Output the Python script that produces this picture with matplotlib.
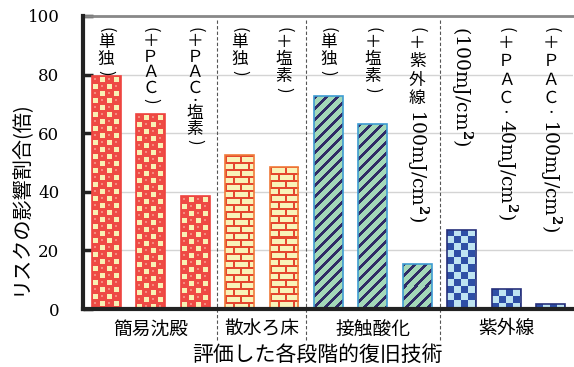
import numpy as np
import matplotlib
matplotlib.use("Agg")
import matplotlib.pyplot as plt

plt.rcParams["font.family"] = ["Noto Sans CJK JP", "DejaVu Sans"]
plt.rcParams["mathtext.fontset"] = "dejavuserif"

# data
values = [79.4, 66.4, 38.4, 52.4, 48.6, 72.6, 63.0, 15.4, 27.0, 6.8, 1.7]
kinds = ["circle"] * 3 + ["brick"] * 2 + ["stripe"] * 3 + ["check"] * 3
upright_labels = ["(単独)", "(＋ＰＡＣ)", "(＋ＰＡＣ・塩素)", "(単独)", "(＋塩素)",
                  "(単独)", "(＋塩素)", "(＋紫外線", "", "(＋ＰＡＣ・", "(＋ＰＡＣ・"]
rotated_labels = ["", "", "", "", "", "", "",
                  r"100mJ/cm$^{\mathbf{2}}$)", r"(100mJ/cm$^{\mathbf{2}}$)",
                  r"40mJ/cm$^{\mathbf{2}}$)", r"100mJ/cm$^{\mathbf{2}}$)"]
groups = ["簡易沈殿", "散水ろ床", "接触酸化", "紫外線"]
group_pos = [1, 3.5, 6, 9]
separators = [2.5, 4.5, 7.5]

edge_colors = {"circle": "#ee4440", "brick": "#f07a3a",
               "stripe": "#3e9cd2", "check": "#26307a"}
# character pitch (px) of the vertical labels, per column
pitches = [17, 15.5, 15.5, 17, 17, 17, 17, 18.5, 17, 18.5, 18.5]


def texture(kind, h, w):
    yy, xx = np.mgrid[0:h, 0:w]
    img = np.zeros((h, w, 3))
    if kind == "circle":
        red = np.array([238, 74, 68]) / 255
        cream = np.array([248, 241, 180]) / 255
        pink = np.array([245, 140, 128]) / 255
        c = 7
        cx, cy = xx % c, yy % c
        chk = ((xx // c) + (yy // c)) % 2
        img[:] = red
        img[(chk == 1) & (cx >= 1) & (cx <= 5) & (cy >= 1) & (cy <= 5)] = cream
        img[(chk == 0) & ((cx - 2.5) ** 2 + (cy - 2.5) ** 2 < 2.2)] = pink
    elif kind == "brick":
        cream = np.array([248, 243, 185]) / 255
        red = np.array([228, 70, 46]) / 255
        bh, bw = 7, 15
        off = ((yy // bh) % 2) * (bw // 2)
        img[:] = cream
        img[(yy % bh < 2) | ((xx + off) % bw < 2)] = red
    elif kind == "stripe":
        green = np.array([164, 216, 184]) / 255
        navy = np.array([48, 43, 102]) / 255
        img[:] = green
        img[(xx + yy) % 11 < 4] = navy
    else:
        blue = np.array([46, 79, 166]) / 255
        light = np.array([191, 228, 242]) / 255
        c = 7
        chk = ((xx // c) + (yy // c)) % 2
        img[:] = light
        img[chk == 0] = blue
    return img


fig, ax = plt.subplots(figsize=(5.74, 3.67), dpi=100)
fig.subplots_adjust(left=83 / 574, right=573 / 574, bottom=1 - 309 / 367, top=1 - 16 / 367)

x = np.arange(len(values))
ax.set_xlim(-0.52, 10.5)
ax.set_ylim(0, 100)

bars = ax.bar(x, values, width=0.65, facecolor="none",
              edgecolor=[edge_colors[k] for k in kinds], linewidth=1.2, zorder=3)

fig.canvas.draw()
for bar, kind in zip(bars, kinds):
    bx, bw, bh = bar.get_x(), bar.get_width(), bar.get_height()
    (px0, py0), (px1, py1) = ax.transData.transform([(bx, 0), (bx + bw, bh)])
    pw, ph = max(int(round(px1 - px0)), 1), max(int(round(py1 - py0)), 1)
    im = ax.imshow(texture(kind, ph, pw), extent=(bx, bx + bw, 0, bh), aspect="auto",
                   interpolation="nearest", origin="upper", zorder=2)
    im.set_clip_path(bar)

ax.set_xlim(-0.52, 10.5)
ax.set_ylim(0, 100)

# grid and spines
ax.set_yticks([0, 20, 40, 60, 80, 100])
ax.yaxis.grid(True, color="#d4d4d4", lw=1, zorder=0)
ax.set_axisbelow(True)
ax.set_xticks([])
ax.spines["right"].set_visible(False)
ax.spines["top"].set_color("#888888")
ax.spines["top"].set_linewidth(2)
ax.spines["left"].set_linewidth(3)
ax.spines["left"].set_color("#222222")
ax.spines["bottom"].set_linewidth(3)
ax.spines["bottom"].set_color("#222222")
ax.spines["left"].set_zorder(4)
ax.spines["bottom"].set_zorder(4)
ax.tick_params(axis="y", direction="in", length=7, width=2.5, color="#222222",
               labelsize=12, pad=17)
for lab in ax.get_yticklabels():
    lab.set_fontfamily("DejaVu Serif")

# separators
for s in separators:
    ax.plot([s, s], [0.985, -0.105], transform=ax.get_xaxis_transform(),
            ls=(0, (3, 2)), lw=0.8, color="#555555", clip_on=False, zorder=1)

# group labels
for g, gp in zip(groups, group_pos):
    ax.text(gp, -0.068, g, transform=ax.get_xaxis_transform(), ha="center",
            va="center", fontsize=13.5)

# vertical bar labels
for i, (up, rot) in enumerate(zip(upright_labels, rotated_labels)):
    y = 9
    for ch in up:
        if ch in "()":
            p, kw = 9, dict(rotation=-90, fontsize=12)
        elif ch == "・":
            p, kw = 10, dict(fontsize=8)
        else:
            p, kw = pitches[i], dict(fontsize=12)
        ax.annotate(ch, xy=(i, 1), xycoords=("data", "axes fraction"),
                    xytext=(0, -(y + p / 2) * 0.72), textcoords="offset points",
                    ha="center", va="center", **kw)
        y += p
    if rot:
        ax.annotate(rot, xy=(i, 1), xycoords=("data", "axes fraction"),
                    xytext=(0, -(y + 1) * 0.72), textcoords="offset points",
                    ha="center", va="top", rotation=-90, fontsize=13.5,
                    family="DejaVu Serif")

fig.text(20 / 574, 1 - 198 / 367, "リスクの影響割合(倍)", rotation=90,
         ha="center", va="center", fontsize=14.5)
fig.text(317 / 574, 1 - 355 / 367, "評価した各段階的復旧技術", ha="center",
         va="center", fontsize=15)

fig.savefig("out.png", dpi=100)
